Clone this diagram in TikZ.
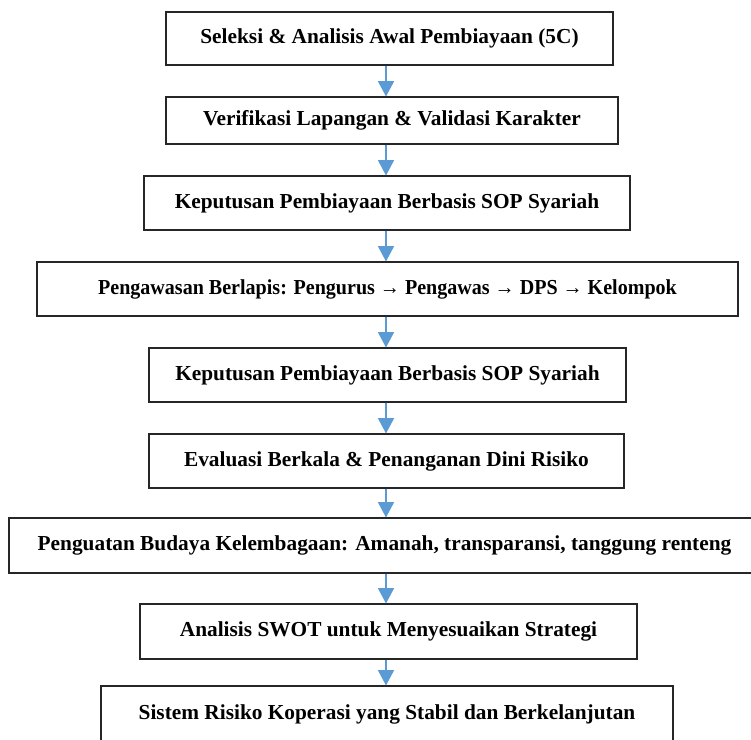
\documentclass[tikz,border=0pt]{standalone}
\usepackage{fontspec}
\setmainfont{Liberation Serif}
\usetikzlibrary{arrows.meta}

\definecolor{flowblue}{HTML}{5B9BD5}

\tikzset{
    stage/.style={draw=black!85, line width=0.8pt, inner sep=0pt, align=center,
        font=\fontsize{16}{18}\selectfont\bfseries},
    flow/.style={draw=flowblue, line width=1.1pt,
        -{Triangle[width=12pt,length=11.5pt]}}
}

\begin{document}
\begin{tikzpicture}[x=0.75pt,y=-0.75pt]
    \useasboundingbox (0,0) rectangle (751,740);
    \coordinate (ax) at (386,0);
    \node[stage, minimum width=335.25pt, minimum height=39.75pt] (b1) at (389.5,38.5) {Seleksi \& Analisis Awal Pembiayaan (5C)};
    \node[stage, minimum width=339pt, minimum height=35.25pt] (b2) at (392,120.5) {Verifikasi Lapangan \& Validasi Karakter};
    \node[stage, minimum width=364.5pt, minimum height=40.5pt] (b3) at (387,203) {Keputusan Pembiayaan Berbasis SOP Syariah};
    \node[stage, minimum width=525.75pt, minimum height=40.5pt] (b4) at (387.5,289) {\scalebox{0.94}[1]{Pengawasan Berlapis: Pengurus → Pengawas → DPS → Kelompok}};
    \node[stage, minimum width=357.75pt, minimum height=40.5pt] (b5) at (387.5,375) {Keputusan Pembiayaan Berbasis SOP Syariah};
    \node[stage, minimum width=356.25pt, minimum height=40.5pt] (b6) at (386.5,461) {Evaluasi Berkala \& Penanganan Dini Risiko};
    \node[stage, minimum width=563.25pt, minimum height=41.25pt] (b7) at (384.5,545.5) {Penguatan Budaya Kelembagaan: Amanah, transparansi, tanggung renteng};
    \node[stage, minimum width=372.75pt, minimum height=41.25pt] (b8) at (388.5,631.5) {Analisis SWOT untuk Menyesuaikan Strategi};
    \node[stage, minimum width=429pt, minimum height=42pt] (b9) at (387,714) {Sistem Risiko Koperasi yang Stabil dan Berkelanjutan};
    % arrows between stages
    \draw[flow] (b1.south -| ax) -- (b2.north -| ax);
    \draw[flow] (b2.south -| ax) -- (b3.north -| ax);
    \draw[flow] (b3.south -| ax) -- (b4.north -| ax);
    \draw[flow] (b4.south -| ax) -- (b5.north -| ax);
    \draw[flow] (b5.south -| ax) -- (b6.north -| ax);
    \draw[flow] (b6.south -| ax) -- (b7.north -| ax);
    \draw[flow] (b7.south -| ax) -- (b8.north -| ax);
    \draw[flow] (b8.south -| ax) -- (b9.north -| ax);
\end{tikzpicture}
\end{document}
